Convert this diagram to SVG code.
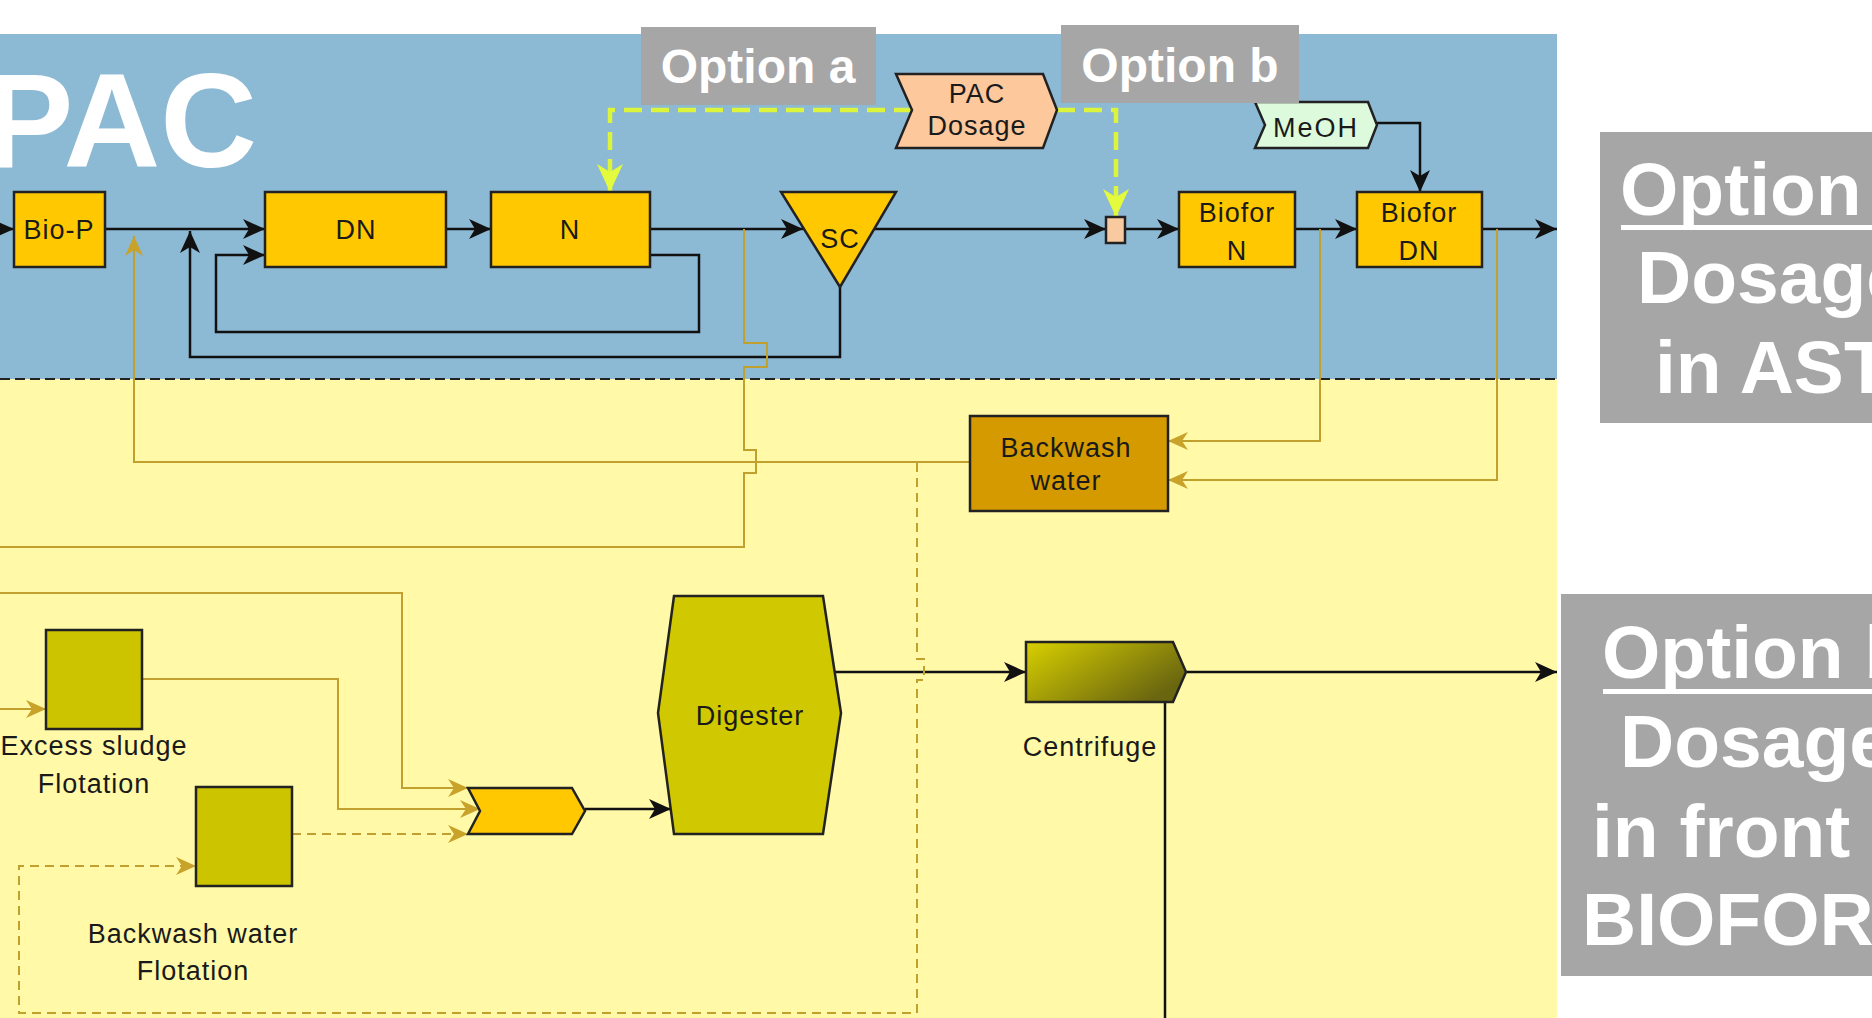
<svg xmlns="http://www.w3.org/2000/svg" width="1872" height="1018" viewBox="0 0 1872 1018">
<style>
.lbl{font-family:"Liberation Sans",Arial,sans-serif;font-size:27px;fill:#1a1a1a;letter-spacing:1px;text-anchor:middle}
.nd{stroke:#222;stroke-width:2.5}
.or{fill:#FFC800}
.ol{fill:#CDC400}
.ln{fill:none;stroke:#111;stroke-width:2.5}
.gl{fill:none;stroke:#C2A02E;stroke-width:2}
.gd{fill:none;stroke:#C2A02E;stroke-width:2;stroke-dasharray:9 6}
.yg{fill:none;stroke:#DCF53C;stroke-width:4.5;stroke-dasharray:18 9}
.gray{fill:#A6A6A6}
.opt{font-family:"Liberation Sans",Arial,sans-serif;font-weight:bold;fill:#fff}
</style>
<defs>
<marker id="ab" markerUnits="userSpaceOnUse" markerWidth="22" markerHeight="20" refX="22" refY="10" orient="auto"><path d="M0,0 L22,10 L0,20 L6,10 z" fill="#111"/></marker>
<marker id="ag" markerUnits="userSpaceOnUse" markerWidth="20" markerHeight="18" refX="20" refY="9" orient="auto"><path d="M0,0 L20,9 L0,18 L6,9 z" fill="#C9A22A"/></marker>
<marker id="ay" markerUnits="userSpaceOnUse" markerWidth="28" markerHeight="26" refX="28" refY="13" orient="auto"><path d="M0,0 L28,13 L0,26 L8,13 z" fill="#E4FA3C"/></marker>
<linearGradient id="cent" x1="0" y1="0" x2="1" y2="0.6">
<stop offset="0" stop-color="#D8D000"/>
<stop offset="1" stop-color="#6A6610"/>
</linearGradient>
</defs>
<rect x="0" y="0" width="1872" height="1018" fill="#fff"/>
<rect x="0" y="34" width="1557" height="345" fill="#8CB9D4"/>
<rect x="0" y="379" width="1557" height="639" fill="#FFF9A8"/>
<line x1="0" y1="379" x2="1557" y2="379" stroke="#222" stroke-width="2" stroke-dasharray="10 5"/>
<text x="-16" y="167" class="opt" font-size="134">PAC</text>

<g id="connectors">
<path class="ln" d="M-10,229 L14,229" marker-end="url(#ab)"/>
<path class="ln" d="M105,229 L265,229" marker-end="url(#ab)"/>
<path class="ln" d="M446,229 L491,229" marker-end="url(#ab)"/>
<path class="ln" d="M650,229 L803,229" marker-end="url(#ab)"/>
<path class="ln" d="M873,229 L1106,229" marker-end="url(#ab)"/>
<path class="ln" d="M1125,229 L1179,229" marker-end="url(#ab)"/>
<path class="ln" d="M1295,229 L1357,229" marker-end="url(#ab)"/>
<path class="ln" d="M1482,229 L1557,229" marker-end="url(#ab)"/>
<path class="ln" d="M650,255 L699,255 L699,332 L216,332 L216,255 L265,255" marker-end="url(#ab)"/>
<path class="ln" d="M840,287 L840,357 L190,357 L190,231" marker-end="url(#ab)"/>
<path class="ln" d="M1377,123 L1420,123 L1420,192" marker-end="url(#ab)"/>
<path class="ln" d="M585,809 L671,809" marker-end="url(#ab)"/>
<path class="ln" d="M835,672 L1026,672" marker-end="url(#ab)"/>
<path class="ln" d="M1186,672 L1557,672" marker-end="url(#ab)"/>
<path class="ln" d="M1165,702 L1165,1018"/>
<path class="gl" d="M970,462 L134,462 L134,236" marker-end="url(#ag)"/>
<path class="gl" d="M744,229 L744,343 L767,343 L767,367 L744,367 L744,450 L756,450 L756,473 L744,473 L744,547 L0,547"/>
<path class="gl" d="M1320,229 L1320,441 L1168,441" marker-end="url(#ag)"/>
<path class="gl" d="M1497,229 L1497,480 L1168,480" marker-end="url(#ag)"/>
<path class="gl" d="M0,593 L402,593 L402,788 L468,788" marker-end="url(#ag)"/>
<path class="gl" d="M142,679 L338,679 L338,809 L480,809" marker-end="url(#ag)"/>
<path class="gl" d="M0,709 L46,709" marker-end="url(#ag)"/>
<path class="gd" d="M292,834 L468,834" marker-end="url(#ag)"/>
<path class="gd" d="M917,463 L917,659 L924,659 L924,680 L917,680 L917,1013 L19,1013 L19,866 L196,866" marker-end="url(#ag)"/>
<path class="yg" d="M912,110 L610,110 L610,192" marker-end="url(#ay)"/>
<path class="yg" d="M1057,110 L1116,110 L1116,217" marker-end="url(#ay)"/>
</g>

<g id="node-biop"><rect class="nd or" x="14" y="192" width="91" height="75"/><text class="lbl" x="59" y="239">Bio-P</text></g>
<g id="node-dn"><rect class="nd or" x="265" y="192" width="181" height="75"/><text class="lbl" x="356" y="239">DN</text></g>
<g id="node-n"><rect class="nd or" x="491" y="192" width="159" height="75"/><text class="lbl" x="570" y="239">N</text></g>
<g id="node-sc"><polygon class="nd or" points="781,192 896,192 840,287"/><text class="lbl" x="840" y="248">SC</text></g>
<g id="node-mix"><rect class="nd" fill="#F9C9A0" x="1106" y="217" width="19" height="26"/></g>
<g id="node-biofor-n"><rect class="nd or" x="1179" y="192" width="116" height="75"/><text class="lbl" x="1237" y="222">Biofor</text><text class="lbl" x="1237" y="260">N</text></g>
<g id="node-biofor-dn"><rect class="nd or" x="1357" y="192" width="125" height="75"/><text class="lbl" x="1419" y="222">Biofor</text><text class="lbl" x="1419" y="260">DN</text></g>
<g id="node-pac"><polygon class="nd" fill="#FCC89C" points="896,74 1043,74 1057,110 1043,148 896,148 912,110"/><text class="lbl" x="977" y="103">PAC</text><text class="lbl" x="977" y="135">Dosage</text></g>
<g id="node-meoh"><polygon class="nd" fill="#DDFADD" points="1255,102 1368,102 1377,125 1368,148 1255,148 1265,125"/><text class="lbl" x="1316" y="137" style="letter-spacing:2px">MeOH</text></g>
<g id="node-backwash"><rect class="nd" fill="#D49A00" x="970" y="416" width="198" height="95"/><text class="lbl" x="1066" y="457">Backwash</text><text class="lbl" x="1066" y="490">water</text></g>
<g id="node-excess"><rect class="nd ol" x="46" y="630" width="96" height="99"/><text class="lbl" x="94" y="755">Excess sludge</text><text class="lbl" x="94" y="793">Flotation</text></g>
<g id="node-bwflot"><rect class="nd ol" x="196" y="787" width="96" height="99"/><text class="lbl" x="193" y="943">Backwash water</text><text class="lbl" x="193" y="980">Flotation</text></g>
<g id="node-thick"><polygon class="nd or" points="468,788 572,788 585,811 572,834 468,834 480,811"/></g>
<g id="node-digester"><polygon class="nd" fill="#D0C800" points="674,596 823,596 841,713 823,834 674,834 658,713"/><text class="lbl" x="750" y="725">Digester</text></g>
<g id="node-centrifuge"><polygon class="nd" fill="url(#cent)" points="1026,642 1173,642 1186,672 1173,702 1026,702"/><text class="lbl" x="1090" y="756">Centrifuge</text></g>

<g id="option-a"><rect class="gray" x="641" y="27" width="235" height="78"/><text class="opt" x="758" y="83" font-size="48" text-anchor="middle">Option a</text></g>
<g id="option-b"><rect class="gray" x="1061" y="25" width="238" height="78"/><text class="opt" x="1180" y="82" font-size="48" text-anchor="middle">Option b</text></g>
<g id="note-a"><rect class="gray" x="1600" y="132" width="290" height="291"/>
<text class="opt" font-size="75" x="1620" y="215">Option</text>
<rect x="1621" y="225" width="260" height="5" fill="#fff"/>
<text class="opt" font-size="75" x="1637" y="303">Dosage</text>
<text class="opt" font-size="75" x="1655" y="393">in AST</text></g>
<g id="note-b"><rect class="gray" x="1561" y="594" width="330" height="382"/>
<text class="opt" font-size="75" x="1602" y="678">Option b</text>
<rect x="1603" y="689" width="280" height="5" fill="#fff"/>
<text class="opt" font-size="75" x="1620" y="767">Dosage</text>
<text class="opt" font-size="75" x="1592" y="857">in front</text>
<text class="opt" font-size="75" x="1582" y="945">BIOFOR</text></g>
</svg>
